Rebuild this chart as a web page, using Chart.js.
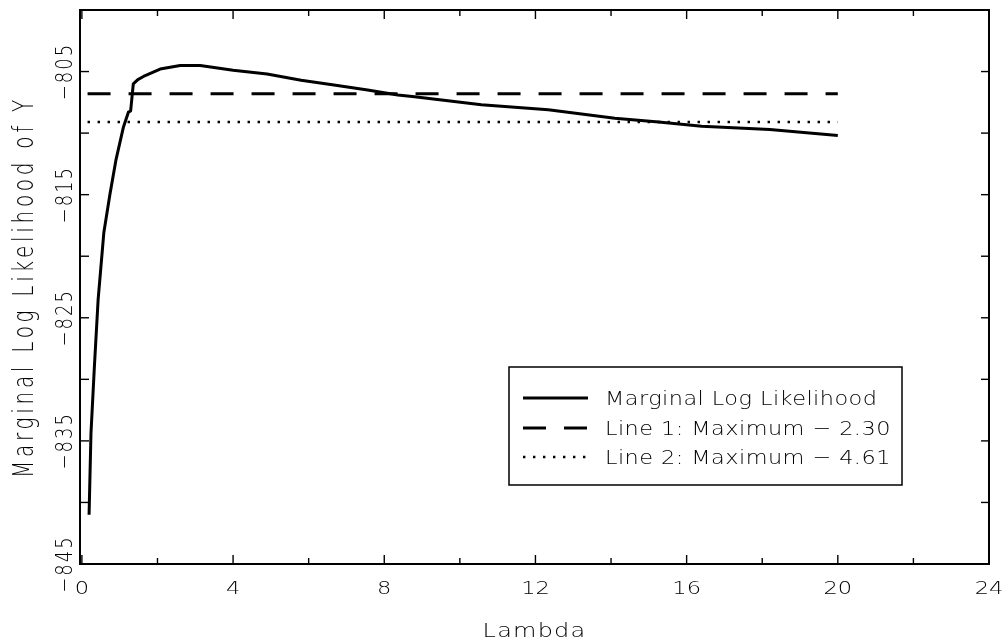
<!DOCTYPE html>
<html>
<head>
<meta charset="utf-8">
<script src="https://cdn.jsdelivr.net/npm/chart.js@4.4.0/dist/chart.umd.min.js"></script>
<style>
    html, body { margin: 0; padding: 0; background: #fff; }
    #wrap { width: 1008px; height: 644px; position: relative; }
</style>
</head>
<body>
<div id="wrap"><canvas id="likelihoodChart"></canvas></div>
<script>
// values
const lambdaValues = [0.19, 0.24, 0.33, 0.43, 0.58, 0.74, 0.90, 1.10, 1.23, 1.29, 1.36, 1.48, 1.63, 2.07, 2.60, 3.13, 4.00, 4.90, 5.80, 6.67, 7.56, 8.36, 8.80, 10.57, 12.34, 14.10, 15.26, 16.40, 18.20, 20.00];
const marginalLogLik = [-841.0, -834.4, -829.0, -823.5, -818.1, -815.0, -812.2, -809.5, -808.3, -808.2, -806.0, -805.65, -805.4, -804.8, -804.5, -804.5, -804.9, -805.2, -805.7, -806.1, -806.5, -806.9, -807.05, -807.7, -808.1, -808.8, -809.1, -809.45, -809.7, -810.2];
const lineSpan = [0.15, 20];
const line1Level = -806.8;
const line2Level = -809.1;
const seriesLabels = ['Marginal Log Likelihood', 'Line 1: Maximum \u2212 2.30', 'Line 2: Maximum \u2212 4.61'];
const xTickValues = [0, 2, 4, 6, 8, 10, 12, 14, 16, 18, 20, 22, 24];
const xTickLabels = ['0', '4', '8', '12', '16', '20', '24'];
const yTickValues = [-845, -840, -835, -830, -825, -820, -815, -810, -805, -800];
const yTickLabels = ['-845', '-835', '-825', '-815', '-805'];
const xTitle = 'Lambda';
const yTitle = 'Marginal Log Likelihood of Y';

const FONT = '"DejaVu Sans", "Liberation Sans", sans-serif';

function drawText(ctx, text, x, y, o) {
    ctx.save();
    ctx.translate(x, y);
    if (o.rotate) ctx.rotate(o.rotate);
    ctx.scale(o.sx || 1, o.sy || 1);
    ctx.font = '200 ' + o.size + 'px ' + FONT;
    ctx.letterSpacing = (o.spacing || 0) + 'px';
    ctx.textAlign = o.align || 'center';
    ctx.textBaseline = 'alphabetic';
    ctx.fillStyle = '#000';
    ctx.fillText(text, 0, 0);
    ctx.restore();
}

function strokeLine(ctx, x1, y1, x2, y2) {
    ctx.beginPath();
    ctx.moveTo(x1, y1);
    ctx.lineTo(x2, y2);
    ctx.stroke();
}

const framePlugin = {
    id: 'frame',
    afterDraw(chart) {
        const ctx = chart.ctx;
        const a = chart.chartArea;
        const xs = chart.scales.x;
        const ys = chart.scales.y;
        ctx.save();
        ctx.strokeStyle = '#000';
        ctx.lineWidth = 2;
        ctx.strokeRect(a.left, a.top, a.right - a.left, a.bottom - a.top);

        // inward tick marks on all four sides
        ctx.lineWidth = 1.4;
        xs.ticks.forEach(function (t) {
            const px = xs.getPixelForValue(t.value);
            const len = xTickLabels.indexOf(String(t.value)) >= 0 ? 9 : 6;
            strokeLine(ctx, px, a.bottom, px, a.bottom - len);
            strokeLine(ctx, px, a.top, px, a.top + len);
        });
        ys.ticks.forEach(function (t) {
            const py = ys.getPixelForValue(t.value);
            strokeLine(ctx, a.left, py, a.left + 9, py);
            strokeLine(ctx, a.right, py, a.right - 8, py);
        });
        ctx.restore();

        // tick labels
        xs.ticks.forEach(function (t) {
            const lbl = String(t.value);
            if (xTickLabels.indexOf(lbl) < 0) return;
            drawText(ctx, lbl, xs.getPixelForValue(t.value), 594, { size: 18, sx: 1.25 });
        });
        ys.ticks.forEach(function (t) {
            const lbl = String(t.value);
            if (yTickLabels.indexOf(lbl) < 0) return;
            drawText(ctx, lbl.replace('-', '\u2212'), 72, ys.getPixelForValue(t.value),
                { size: 18, rotate: -Math.PI / 2, sy: 1.3, spacing: 2 });
        });

        // axis titles
        drawText(ctx, xTitle, (a.left + a.right) / 2, 637, { size: 20, sx: 1.2, spacing: 1 });
        drawText(ctx, yTitle, 33, (a.top + a.bottom) / 2, { size: 20, rotate: -Math.PI / 2, sy: 1.45, spacing: 3.7 });

        // legend box
        const bx = a.left + 429, by = a.top + 357, bw = 393, bh = 118;
        ctx.save();
        ctx.strokeStyle = '#000';
        ctx.lineWidth = 1.5;
        ctx.strokeRect(bx, by, bw, bh);
        const rowsY = [398, 428, 457];
        chart.data.datasets.forEach(function (ds, i) {
            ctx.save();
            ctx.strokeStyle = ds.borderColor;
            ctx.lineWidth = ds.borderWidth;
            ctx.setLineDash(ds.borderDash || []);
            strokeLine(ctx, bx + 14, rowsY[i], bx + 79, rowsY[i]);
            ctx.restore();
            drawText(ctx, ds.label, bx + 96, rowsY[i] + 7, { size: 20, sx: 1.12, spacing: 0.4, align: 'left' });
        });
        ctx.restore();
    }
};

const curvePoints = lambdaValues.map(function (v, i) { return { x: v, y: marginalLogLik[i] }; });

new Chart(document.getElementById('likelihoodChart'), {
    type: 'line',
    data: {
        datasets: [
            {
                label: seriesLabels[0],
                data: curvePoints,
                borderColor: '#000',
                borderWidth: 3,
                pointRadius: 0,
                tension: 0,
                borderJoinStyle: 'round'
            },
            {
                label: seriesLabels[1],
                data: [{ x: lineSpan[0], y: line1Level }, { x: lineSpan[1], y: line1Level }],
                borderColor: '#000',
                borderWidth: 3,
                borderDash: [23, 18],
                pointRadius: 0
            },
            {
                label: seriesLabels[2],
                data: [{ x: lineSpan[0], y: line2Level }, { x: lineSpan[1], y: line2Level }],
                borderColor: '#000',
                borderWidth: 2.4,
                borderDash: [2.4, 7.6],
                pointRadius: 0
            }
        ]
    },
    options: {
        responsive: true,
        maintainAspectRatio: false,
        animation: false,
        events: [],
        layout: { padding: { top: 10, right: 19, left: 0, bottom: 0 } },
        plugins: {
            legend: { display: false },
            tooltip: { enabled: false }
        },
        scales: {
            x: {
                type: 'linear',
                min: -0.05,
                max: 24,
                grid: { display: false },
                border: { display: false },
                ticks: { display: false },
                afterBuildTicks: function (scale) {
                    scale.ticks = xTickValues.map(function (v) { return { value: v }; });
                },
                afterFit: function (scale) { scale.height = 80; }
            },
            y: {
                type: 'linear',
                min: -845,
                max: -800,
                grid: { display: false },
                border: { display: false },
                ticks: { display: false },
                afterBuildTicks: function (scale) {
                    scale.ticks = yTickValues.map(function (v) { return { value: v }; });
                },
                afterFit: function (scale) { scale.width = 80; }
            }
        }
    },
    plugins: [framePlugin]
});
</script>
</body>
</html>
